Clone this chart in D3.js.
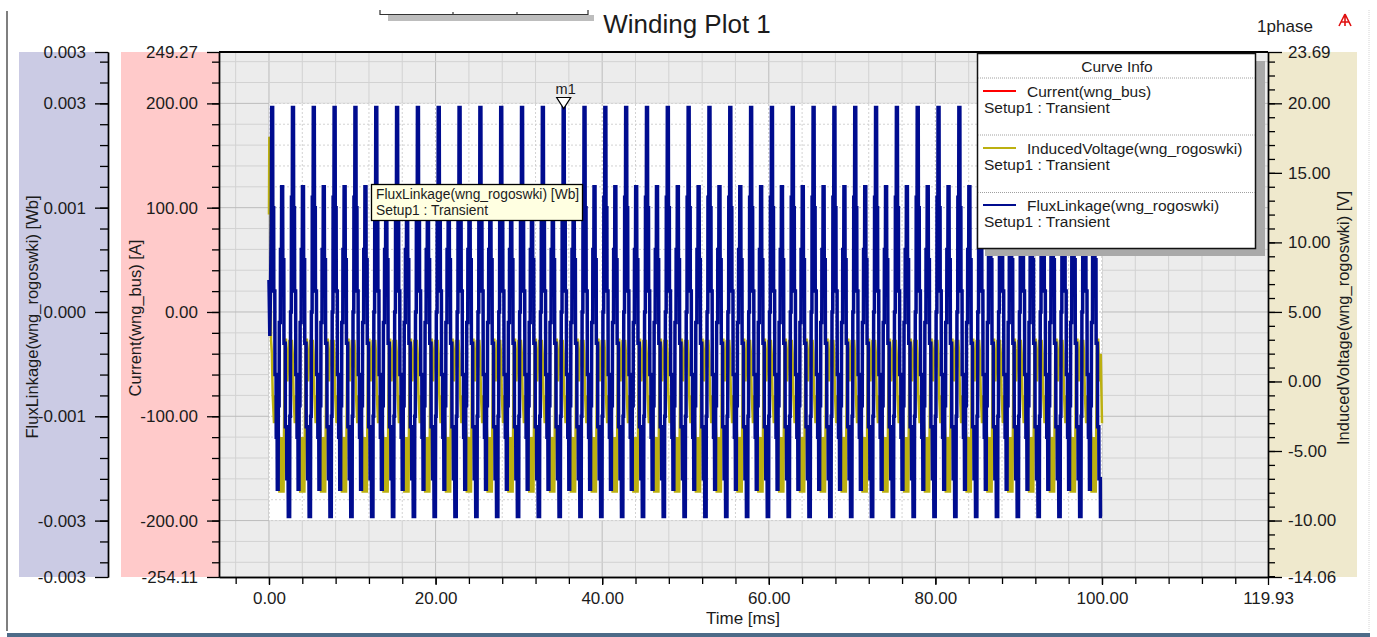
<!DOCTYPE html>
<html>
<head>
<meta charset="utf-8">
<script src="https://cdnjs.cloudflare.com/ajax/libs/d3/7.8.5/d3.min.js"></script>
<style>
body { margin: 0; background: #fff; }
svg text { font-family: "Liberation Sans", Arial, sans-serif; fill: #1c1c1c; }
</style>
</head>
<body>
<script>
//axis ranges and tick labels
var timeDomain = [-6, 119.93];
var currentDomain = [-254.11, 249.27];
var fluxDomain = [-0.003303, 0.003240];
var voltDomain = [-14.06, 23.69];
var timeTicks = [0, 20, 40, 60, 80, 100, 119.93];
var currentTicks = [-254.11, -200, -100, 0, 100, 200, 249.27];
var fluxTicks = [-0.003303, -0.0026, -0.0013, 0, 0.0013, 0.0026, 0.003240];
var voltTicks = [-14.06, -10, -5, 0, 5, 10, 15, 20, 23.69];

//legend
var curveNames = ["Current(wng_bus)", "InducedVoltage(wng_rogoswki)", "FluxLinkage(wng_rogoswki)"];
var curveColors = ["#ff0000", "#bcb010", "#000c8f"];

//times of the tall flux peaks [ms]
var peakTimes = [0.4, 2.9, 5.4, 7.9, 10.4, 12.9, 15.4, 17.9, 20.4, 22.9,
                 25.4, 27.9, 30.4, 32.9, 35.4, 37.9, 40.4, 42.9, 45.4, 47.9,
                 50.4, 52.9, 55.4, 57.9, 60.4, 62.9, 65.4, 67.9, 70.4, 72.9,
                 75.4, 77.9, 80.4, 82.9, 85.4, 87.9, 90.4, 92.9, 95.4, 97.9];

//one switching cycle, offsets from the tall peak [ms]
var cycleOffsets = [-0.45, -0.42, -0.40, -0.33, -0.31, -0.22, -0.20, -0.10, -0.08, 0.04,
                    0.06, 0.16, 0.18, 0.30, 0.32, 0.45, 0.47, 0.58, 0.60, 0.70,
                    0.72, 0.82, 0.84, 0.96, 0.98, 1.10, 1.12, 1.24,
                    1.26, 1.38, 1.40, 1.55, 1.57, 1.72, 1.74, 1.90, 1.92];
var cycleCurrent = [-196, -196, -100, -100, 0, 0, 110, 110, 196, 196,
                    100, 100, 20, 20, -60, -60, -120, -120, -170, -170,
                    -90, -90, -10, -10, 60, 60, 120, 120,
                    50, 50, -30, -30, -110, -110, -160, -160, -196];
var cycleFlux = [-0.002548, -0.002548, -0.0013, -0.0013, 0, 0, 0.00143, 0.00143, 0.002548, 0.002548,
                 0.0013, 0.0013, 0.00026, 0.00026, -0.00078, -0.00078, -0.00156, -0.00156, -0.00221, -0.00221,
                 -0.00117, -0.00117, -0.00013, -0.00013, 0.00078, 0.00078, 0.00156, 0.00156,
                 0.00065, 0.00065, -0.00039, -0.00039, -0.00143, -0.00143, -0.00208, -0.00208, -0.002548];
var voltOffsets = [-0.45, -0.3, -0.15, -0.05, 0.05, 0.2, 0.35, 0.5, 0.65, 0.8,
                   0.85, 0.9, 0.95, 1.0, 1.05, 1.1, 1.15, 1.2, 1.25, 1.3, 1.35, 1.4,
                   1.5, 1.65, 1.8, 1.95];
var cycleVolt = [3, 1, 3, 2, -1, -3, -1, -3, -2, -4,
                 -8, -4, -8, -5, -8, -4, -8, -6, -8, -4, -8, -4,
                 3, 3, 0, 2];

//start-up transient and end of run
var startTimes = [0, 0.1, 0.2];
var startCurrent = [0, -20, 30];
var startFlux = [0.0004, -0.0003, 0.0004];
var voltStartTimes = [0, 0.04, 0.1, 0.16, 0.22];
var startVolt = [12, 17.6, 14, 16, 6];
var endTime = 100;
var endCurrent = -196;
var endFlux = -0.002548;
var endVolt = -3;

var plot = {left: 219, right: 1268, top: 52, bottom: 577};

var x = d3.scaleLinear().domain(timeDomain).range([plot.left, plot.right]);
var yI = d3.scaleLinear().domain(currentDomain).range([plot.bottom, plot.top]);
var yF = d3.scaleLinear().domain(fluxDomain).range([plot.bottom, plot.top]);
var yV = d3.scaleLinear().domain(voltDomain).range([plot.bottom, plot.top]);

function buildSeries(t0, v0, offsets, values, tEnd, vEnd) {
    var pts = t0.map(function(t, i) { return [t, v0[i]]; });
    var last = t0[t0.length - 1];
    peakTimes.forEach(function(p) {
        offsets.forEach(function(o, i) {
            var t = p + o;
            if (t > last && t < tEnd) pts.push([t, values[i]]);
        });
    });
    pts.push([tEnd, vEnd]);
    return pts;
}

var currentData = buildSeries(startTimes, startCurrent, cycleOffsets, cycleCurrent, endTime, endCurrent);
var voltData = buildSeries(voltStartTimes, startVolt, voltOffsets, cycleVolt, endTime, endVolt);
var fluxData = buildSeries(startTimes, startFlux, cycleOffsets, cycleFlux, endTime, endFlux);

var fmt2 = function(d) { return d.toFixed(2); };
var fmt3 = function(d) { return d.toFixed(3); };

var svg = d3.select("body").append("svg")
    .attr("width", 1377)
    .attr("height", 637);

//window frame
svg.append("line").attr("x1", 7).attr("x2", 7).attr("y1", 11).attr("y2", 631)
    .attr("stroke", "#555").attr("stroke-width", 1.5);
svg.append("line").attr("x1", 1369).attr("x2", 1369).attr("y1", 10).attr("y2", 632)
    .attr("stroke", "#d4d4d4").attr("stroke-dasharray", "1,1");
svg.append("rect").attr("x", 7).attr("y", 633).attr("width", 1363).attr("height", 4).attr("fill", "#4d6b88");

//little bracket at the top
svg.append("rect").attr("x", 388).attr("y", 15).attr("width", 206).attr("height", 6).attr("fill", "#bdbdbd");
svg.append("path").attr("d", "M380,10V14.5H588V10M453,14.5V12M517,14.5V12")
    .attr("fill", "none").attr("stroke", "#333").attr("stroke-width", 1.2);

//title
svg.append("text").attr("x", 687).attr("y", 33).attr("text-anchor", "middle")
    .style("font-size", "26px").text("Winding Plot 1");
svg.append("text").attr("x", 1285).attr("y", 32).attr("text-anchor", "middle")
    .style("font-size", "17px").text("1phase");
svg.append("path").attr("d", "M1345,14L1339,26M1345,14L1351,26M1341,22H1349M1345,14V26")
    .attr("stroke", "#e01010").attr("stroke-width", 1.6).attr("fill", "none");

//axis bands
svg.append("rect").attr("x", 19).attr("y", plot.top).attr("width", 89).attr("height", plot.bottom - plot.top).attr("fill", "#cbcbe4");
svg.append("rect").attr("x", 121).attr("y", plot.top).attr("width", plot.left - 121).attr("height", plot.bottom - plot.top).attr("fill", "#ffcaca");
svg.append("rect").attr("x", plot.right).attr("y", plot.top).attr("width", 89).attr("height", plot.bottom - plot.top).attr("fill", "#efe9cd");

//plot background and grid
svg.append("rect").attr("x", plot.left).attr("y", plot.top)
    .attr("width", plot.right - plot.left).attr("height", plot.bottom - plot.top).attr("fill", "#ececec");

var gridX = d3.range(-4, 119, 4);
var gridY = d3.range(-240, 241, 20);

function drawGrid(g, dash) {
    g.selectAll(".gx").data(gridX).enter().append("line")
        .attr("x1", function(d) { return x(d); }).attr("x2", function(d) { return x(d); })
        .attr("y1", plot.top).attr("y2", plot.bottom)
        .attr("stroke", function(d) { return d % 20 === 0 ? "#bcbcbc" : "#d2d2d2"; })
        .attr("stroke-dasharray", dash);
    g.selectAll(".gy").data(gridY).enter().append("line")
        .attr("x1", plot.left).attr("x2", plot.right)
        .attr("y1", function(d) { return yI(d); }).attr("y2", function(d) { return yI(d); })
        .attr("stroke", function(d) { return d % 100 === 0 ? "#bcbcbc" : "#d2d2d2"; })
        .attr("stroke-dasharray", dash);
}
drawGrid(svg.append("g"), null);

//white area over the run
var tExt = d3.extent(currentData, function(d) { return d[0]; });
var iExt = d3.extent(currentData, function(d) { return d[1]; });
var dataBox = {x: x(tExt[0]), y: yI(iExt[1] + 4), w: x(tExt[1]) - x(tExt[0]), h: yI(iExt[0] - 4) - yI(iExt[1] + 4)};
svg.append("clipPath").attr("id", "dataclip").append("rect")
    .attr("x", dataBox.x).attr("y", dataBox.y).attr("width", dataBox.w).attr("height", dataBox.h);
svg.append("rect").attr("x", dataBox.x).attr("y", dataBox.y).attr("width", dataBox.w).attr("height", dataBox.h).attr("fill", "#fff");
drawGrid(svg.append("g").attr("clip-path", "url(#dataclip)"), "2,2");

//curves
svg.append("clipPath").attr("id", "plotclip").append("rect")
    .attr("x", plot.left).attr("y", plot.top).attr("width", plot.right - plot.left).attr("height", plot.bottom - plot.top);
var curves = svg.append("g").attr("clip-path", "url(#plotclip)");

var lineI = d3.line().x(function(d) { return x(d[0]); }).y(function(d) { return yI(d[1]); });
var lineV = d3.line().x(function(d) { return x(d[0]); }).y(function(d) { return yV(d[1]); });
var lineF = d3.line().x(function(d) { return x(d[0]); }).y(function(d) { return yF(d[1]); });

curves.append("path").attr("d", lineI(currentData)).attr("fill", "none")
    .attr("stroke", curveColors[0]).attr("stroke-width", 1.5);
curves.append("path").attr("d", lineV(voltData)).attr("fill", "none")
    .attr("stroke", curveColors[1]).attr("stroke-width", 2.5);
curves.append("path").attr("d", lineF(fluxData)).attr("fill", "none")
    .attr("stroke", curveColors[2]).attr("stroke-width", 3.5);

//axes
function styleAxis(g) {
    g.selectAll(".domain").attr("stroke", "#000").attr("stroke-width", 1.4);
    g.selectAll(".tick line").attr("stroke", "#000").attr("stroke-width", 1.3);
    g.selectAll("text").style("font-size", "17px").attr("fill", "#1c1c1c");
}

svg.append("g").attr("transform", "translate(0," + plot.bottom + ")")
    .call(d3.axisBottom(x).tickValues(d3.range(-4, 119, 4)).tickSize(7).tickSizeOuter(0).tickFormat(""))
    .call(styleAxis);
svg.append("g").attr("transform", "translate(0," + plot.bottom + ")")
    .call(d3.axisBottom(x).tickValues(timeTicks).tickSize(8).tickSizeOuter(0).tickPadding(7).tickFormat(fmt2))
    .call(styleAxis);

svg.append("g").attr("transform", "translate(" + plot.left + ",0)")
    .call(d3.axisLeft(yI).tickValues(d3.range(-240, 241, 20)).tickSize(7).tickSizeOuter(0).tickFormat(""))
    .call(styleAxis);
svg.append("g").attr("transform", "translate(" + plot.left + ",0)")
    .call(d3.axisLeft(yI).tickValues(currentTicks).tickSize(12).tickSizeOuter(0).tickPadding(9).tickFormat(fmt2))
    .call(styleAxis);

svg.append("g").attr("transform", "translate(108,0)")
    .call(d3.axisLeft(yF).tickValues(d3.range(-12, 13).map(function(k) { return k * 0.00026; })).tickSize(8).tickSizeOuter(0).tickFormat(""))
    .call(styleAxis);
svg.append("g").attr("transform", "translate(108,0)")
    .call(d3.axisLeft(yF).tickValues(fluxTicks).tickSize(13).tickSizeOuter(0).tickPadding(9).tickFormat(fmt3))
    .call(styleAxis);

svg.append("g").attr("transform", "translate(" + plot.right + ",0)")
    .call(d3.axisRight(yV).tickValues(d3.range(-14, 24, 1)).tickSize(7).tickSizeOuter(0).tickFormat(""))
    .call(styleAxis);
svg.append("g").attr("transform", "translate(" + plot.right + ",0)")
    .call(d3.axisRight(yV).tickValues(voltTicks).tickSize(14).tickSizeOuter(0).tickPadding(6).tickFormat(fmt2))
    .call(styleAxis);

svg.append("line").attr("x1", plot.left).attr("x2", plot.right).attr("y1", plot.top).attr("y2", plot.top)
    .attr("stroke", "#000").attr("stroke-width", 2);

//axis titles
svg.append("text").attr("transform", "translate(37.5,317) rotate(-90)").attr("text-anchor", "middle")
    .style("font-size", "16.5px").text("FluxLinkage(wng_rogoswki) [Wb]");
svg.append("text").attr("transform", "translate(140.5,318) rotate(-90)").attr("text-anchor", "middle")
    .style("font-size", "16.5px").text("Current(wng_bus) [A]");
svg.append("text").attr("transform", "translate(1348.5,318) rotate(-90)").attr("text-anchor", "middle")
    .style("font-size", "16.5px").text("InducedVoltage(wng_rogoswki) [V]");
svg.append("text").attr("x", 743).attr("y", 624).attr("text-anchor", "middle")
    .style("font-size", "17px").text("Time [ms]");

//marker m1 on the tall peak at 35.4 ms
var mx = x(peakTimes[14] - 0.02), my = yF(d3.max(cycleFlux));
svg.append("path").attr("d", "M" + (mx - 7) + "," + (my - 10) + "H" + (mx + 7) + "L" + mx + "," + (my + 1) + "Z")
    .attr("fill", "#fff").attr("stroke", "#000").attr("stroke-width", 1.2);
svg.append("text").attr("x", mx + 2).attr("y", my - 14).attr("text-anchor", "middle")
    .style("font-size", "14.5px").text("m1");

//tooltip
svg.append("rect").attr("x", 371.5).attr("y", 184.5).attr("width", 211).attr("height", 36)
    .attr("fill", "#ffffe1").attr("stroke", "#000").attr("stroke-width", 1.3);
svg.append("text").attr("x", 376).attr("y", 198.5).style("font-size", "13.8px").text("FluxLinkage(wng_rogoswki) [Wb]");
svg.append("text").attr("x", 376).attr("y", 215).style("font-size", "13.8px").text("Setup1 : Transient");

//curve info
var leg = svg.append("g");
leg.append("rect").attr("x", 985).attr("y", 61).attr("width", 280).attr("height", 195).attr("fill", "#a9a9a9");
leg.append("rect").attr("x", 977.5).attr("y", 53.5).attr("width", 278).attr("height", 195)
    .attr("fill", "#fff").attr("stroke", "#111").attr("stroke-width", 1.5);
leg.append("text").attr("x", 1117).attr("y", 72).attr("text-anchor", "middle")
    .style("font-size", "15.5px").text("Curve Info");
[78, 135, 192.5].forEach(function(yy) {
    leg.append("line").attr("x1", 978).attr("x2", 1255).attr("y1", yy).attr("y2", yy)
        .attr("stroke", "#a0a0a0").attr("stroke-dasharray", "1,1");
});
curveNames.forEach(function(name, i) {
    var y0 = 91 + i * 57;
    leg.append("line").attr("x1", 983).attr("x2", 1016).attr("y1", y0).attr("y2", y0)
        .attr("stroke", curveColors[i]).attr("stroke-width", 2);
    leg.append("text").attr("x", 1027).attr("y", y0 + 5.5).style("font-size", "15.5px").text(name);
    leg.append("text").attr("x", 984).attr("y", y0 + 22).style("font-size", "15.5px").text("Setup1 : Transient");
});
</script>
</body>
</html>
